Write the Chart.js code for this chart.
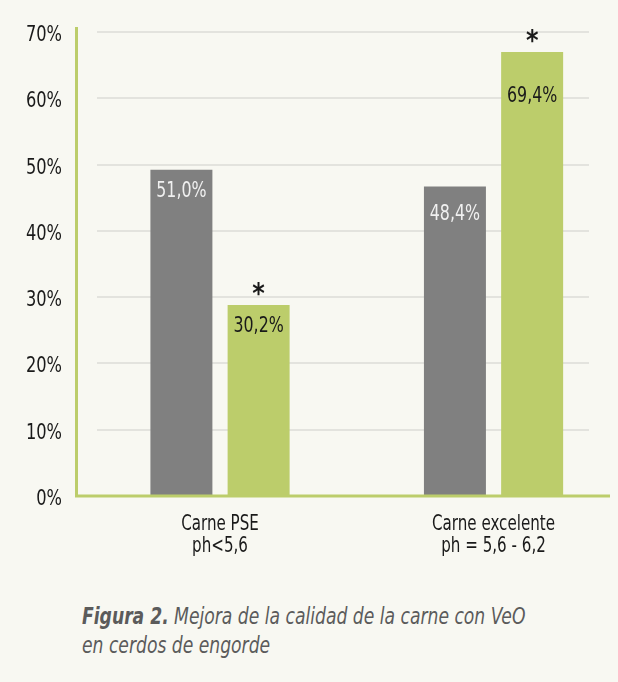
<!DOCTYPE html>
<html lang="es">
<head>
  <meta charset="UTF-8" />
  <title>Figura 2 - Calidad de la carne con VeO</title>
  <script src="https://cdn.jsdelivr.net/npm/chart.js"></script>
  <style>
    body {
      margin: 0;
      background: #f8f8f2;
      width: 618px;
      height: 682px;
      overflow: hidden;
      position: relative;
      font-family: 'DejaVu Sans Condensed', sans-serif;
    }
    .chart-box {
      position: absolute;
      left: 0;
      top: 0;
      width: 618px;
      height: 580px;
    }
    .caption {
      position: absolute;
      left: 82px;
      top: 602px;
      font-size: 23px;
      line-height: 29px;
      color: #5b5b5b;
      font-style: italic;
      white-space: nowrap;
      transform: scaleX(0.83);
      transform-origin: left top;
    }
    .caption b { font-weight: bold; }
  </style>
</head>
<body>

  <div class="chart-box"><canvas id="meatChart"></canvas></div>
  <div class="caption"><b>Figura 2.</b> Mejora de la calidad de la carne con VeO<br>en cerdos de engorde</div>

  <script>
    // categorías (dos líneas cada una)
    const categories = [['Carne PSE', 'ph<5,6'], ['Carne excelente', 'ph = 5,6 - 6,2']];
    // alturas de barra (%)
    const controlHeights = [49.2, 46.7];
    const veoHeights = [28.8, 67.0];
    // rótulos impresos en las barras
    const controlLabels = ['51,0%', '48,4%'];
    const veoLabels = ['30,2%', '69,4%'];
    const controlMarks = ['', ''];
    const veoMarks = ['*', '*'];
    const yTickValues = [0, 10, 20, 30, 40, 50, 60, 70];

    const FONT = "'DejaVu Sans Condensed', sans-serif";
    const GREEN = '#bccd6b';
    const GRAY = '#808080';
    const INK = '#1a1a1a';

    // estilo de rótulos: distancia de la línea base al borde superior de la barra
    const labelStyles = [
      { texts: controlLabels, marks: controlMarks, color: '#f0f0f0', drop: [27, 34] },
      { texts: veoLabels, marks: veoMarks, color: INK, drop: [27, 50] }
    ];

    Chart.defaults.font.family = FONT;

    // texto estrechado (la fuente original es condensada)
    function narrowText(ctx, text, x, y, size, weight, align, color, sx) {
      ctx.save();
      ctx.font = weight + ' ' + size + 'px ' + FONT;
      ctx.fillStyle = color;
      ctx.textAlign = align;
      ctx.textBaseline = 'alphabetic';
      ctx.translate(x, y);
      ctx.scale(sx, 1);
      ctx.fillText(text, 0, 0);
      ctx.restore();
    }

    const tickText = {
      id: 'tickText',
      afterDraw(chart) {
        const { ctx, chartArea, scales: { x, y } } = chart;
        yTickValues.forEach(v => {
          narrowText(ctx, v + '%', chartArea.left - 35, y.getPixelForValue(v) + 9, 22, 'normal', 'right', INK, 0.82);
        });
        categories.forEach((lines, i) => {
          const px = x.getPixelForValue(i);
          lines.forEach((t, k) => {
            narrowText(ctx, t, px, chartArea.bottom + 34 + k * 22, 21, 'normal', 'center', INK, 0.8);
          });
        });
      }
    };

    const barLabels = {
      id: 'barLabels',
      afterDatasetsDraw(chart) {
        const { ctx } = chart;
        labelStyles.forEach((st, i) => {
          chart.getDatasetMeta(i).data.forEach((bar, j) => {
            narrowText(ctx, st.texts[j], bar.x, bar.y + st.drop[j], 22, 'normal', 'center', st.color, 0.8);
            if (st.marks[j]) {
              narrowText(ctx, st.marks[j], bar.x, bar.y - 2, 28, 'bold', 'center', INK, 0.95);
            }
          });
        });
      }
    };

    const axisLines = {
      id: 'axisLines',
      afterDatasetsDraw(chart) {
        const { ctx, chartArea, scales: { y } } = chart;
        const y0 = y.getPixelForValue(0);
        const ax = chartArea.left - 20.5;
        ctx.save();
        ctx.strokeStyle = GREEN;
        ctx.lineWidth = 3;
        ctx.beginPath();
        ctx.moveTo(ax, y.getPixelForValue(70) - 5);
        ctx.lineTo(ax, y0 + 1.5);
        ctx.moveTo(ax - 1.5, y0);
        ctx.lineTo(chartArea.right + 21, y0);
        ctx.stroke();
        ctx.restore();
      }
    };

    new Chart(document.getElementById('meatChart'), {
      type: 'bar',
      data: {
        datasets: [
          {
            label: 'Control',
            data: controlHeights.map((v, i) => ({ x: i, y: v })),
            backgroundColor: GRAY
          },
          {
            label: 'VeO',
            data: veoHeights.map((v, i) => ({ x: i, y: v })),
            backgroundColor: GREEN
          }
        ]
      },
      options: {
        responsive: true,
        maintainAspectRatio: false,
        animation: false,
        categoryPercentage: 0.5645,
        barPercentage: 0.803,
        layout: { padding: { top: 32, right: 29, left: 0, bottom: 0 } },
        plugins: {
          legend: { display: false },
          tooltip: { enabled: false }
        },
        scales: {
          x: {
            type: 'linear',
            offset: false,
            min: -0.4497,
            max: 1.349,
            afterBuildTicks: s => { s.ticks = categories.map((c, i) => ({ value: i })); },
            afterFit: s => { s.height = 84; },
            grid: { display: false },
            border: { display: false },
            ticks: { display: false }
          },
          y: {
            min: 0,
            max: 70,
            afterBuildTicks: s => { s.ticks = yTickValues.map(v => ({ value: v })); },
            afterFit: s => { s.width = 97; },
            grid: { color: '#e3e3de', lineWidth: 2, drawTicks: false },
            border: { display: false },
            ticks: { display: false }
          }
        }
      },
      plugins: [axisLines, barLabels, tickText]
    });
  </script>

</body>
</html>
